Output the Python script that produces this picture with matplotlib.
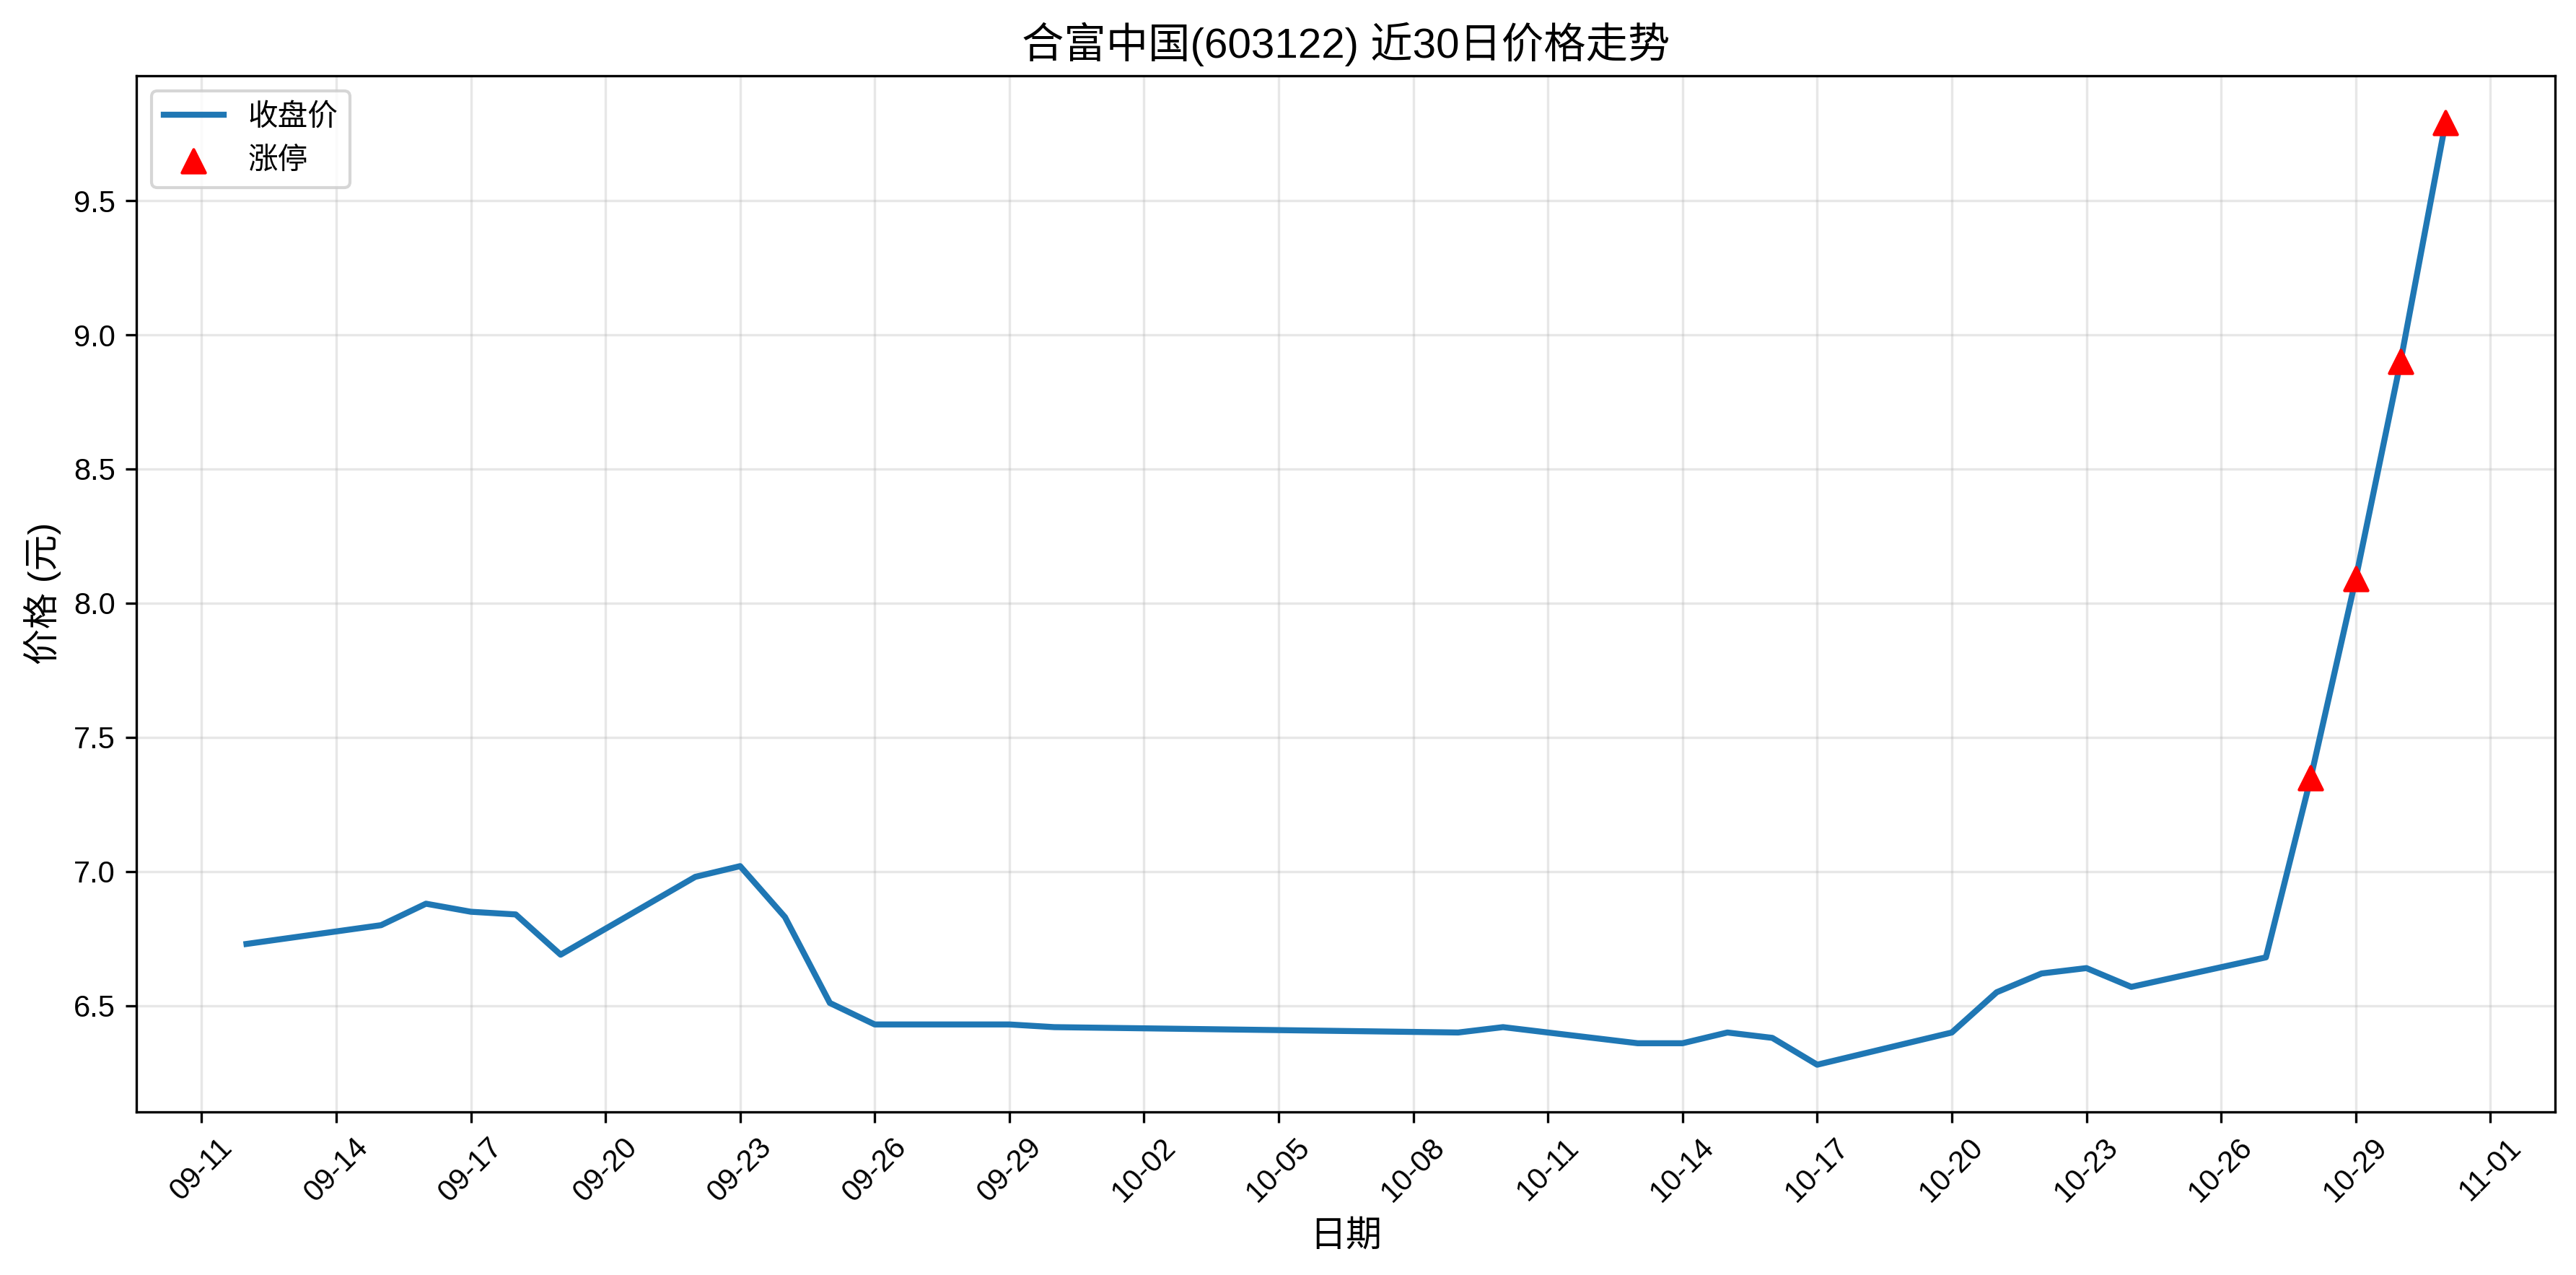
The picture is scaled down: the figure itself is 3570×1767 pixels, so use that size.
import numpy as np
import pandas as pd
import matplotlib
matplotlib.use("Agg")
import matplotlib.pyplot as plt
import matplotlib.dates as mdates

plt.rcParams['font.family'] = ['Liberation Sans', 'Noto Sans CJK SC', 'DejaVu Sans']
plt.rcParams['axes.unicode_minus'] = False

# trading days and closing prices
dates = ['2025-09-12', '2025-09-15', '2025-09-16', '2025-09-17', '2025-09-18',
         '2025-09-19', '2025-09-22', '2025-09-23', '2025-09-24', '2025-09-25',
         '2025-09-26', '2025-09-29', '2025-09-30', '2025-10-09', '2025-10-10',
         '2025-10-13', '2025-10-14', '2025-10-15', '2025-10-16', '2025-10-17',
         '2025-10-20', '2025-10-21', '2025-10-22', '2025-10-23', '2025-10-24',
         '2025-10-27', '2025-10-28', '2025-10-29', '2025-10-30', '2025-10-31']
close = [6.73, 6.80, 6.88, 6.85, 6.84,
         6.69, 6.98, 7.02, 6.83, 6.51,
         6.43, 6.43, 6.42, 6.40, 6.42,
         6.36, 6.36, 6.40, 6.38, 6.28,
         6.40, 6.55, 6.62, 6.64, 6.57,
         6.68, 7.35, 8.09, 8.90, 9.79]
limit_up_dates = ['2025-10-28', '2025-10-29', '2025-10-30', '2025-10-31']
limit_up_close = [7.35, 8.09, 8.90, 9.79]

x = pd.to_datetime(dates)
xu = pd.to_datetime(limit_up_dates)

fig, ax = plt.subplots(figsize=(11.9, 5.89), dpi=300)
fig.subplots_adjust(left=0.053, right=0.992, top=0.9406, bottom=0.128)

ax.plot(x, close, color='#1f77b4', linewidth=2, label='收盘价')
ax.scatter(xu, limit_up_close, color='red', marker='^', s=60, zorder=5, label='涨停')

ax.set_title('合富中国(603122) 近30日价格走势', fontsize=14)
ax.set_xlabel('日期', fontsize=12)
ax.set_ylabel('价格 (元)', fontsize=12)

ax.set_xticks(pd.date_range('2025-09-11', '2025-11-01', freq='3D'))
ax.xaxis.set_major_formatter(mdates.DateFormatter('%m-%d'))
plt.setp(ax.get_xticklabels(), rotation=45)

ax.grid(True, alpha=0.3)
ax.legend(loc='upper left')

fig.savefig('out.png', dpi=300)
